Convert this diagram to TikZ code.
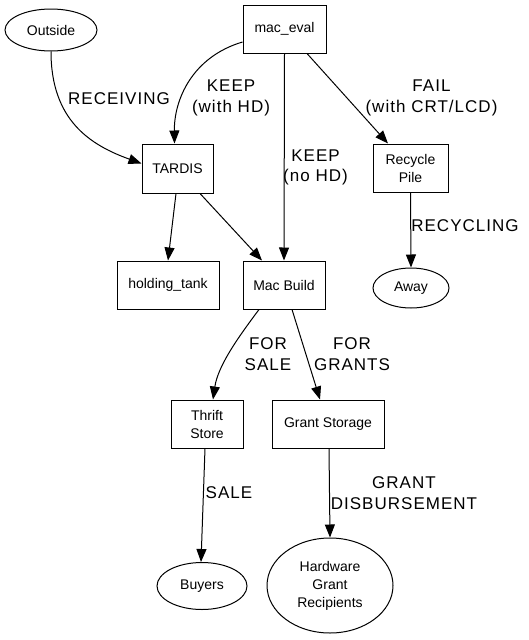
\documentclass[tikz,border=0pt]{standalone}
\usepackage{fontspec}
\setmainfont{Liberation Sans}
\newfontfamily\lblfont[LetterSpace=6]{Liberation Sans}
\usetikzlibrary{arrows.meta,shapes.geometric,calc}
\begin{document}
\begin{tikzpicture}[x=1pt,y=-1pt,
  box/.style={draw,line width=1pt,rectangle,inner sep=0pt,font=\fontsize{14}{18}\selectfont,align=center},
  oval/.style={draw,line width=1pt,ellipse,inner sep=0pt,font=\fontsize{14}{18}\selectfont,align=center},
  lbl/.style={inner sep=0pt,font=\lblfont\fontsize{17}{20.5}\selectfont,align=center},
  edge/.style={line width=1pt,-{Triangle[length=13pt,width=10pt]}}]
\useasboundingbox (0,0) rectangle (528,640);
\fill[white] (0,0) rectangle (528,640);

\node[oval,minimum width=92pt,minimum height=42pt] (outside) at (51,30) {Outside};
\node[box,minimum width=83pt,minimum height=48pt] (maceval) at (284.5,29) {mac\_eval};
\node[box,minimum width=71pt,minimum height=49pt] (tardis) at (177.5,168.5) {TARDIS};
\node[box,minimum width=75pt,minimum height=48pt] (recycle) at (410.5,168) {Recycle\\Pile};
\node[box,minimum width=102pt,minimum height=48pt] (holding) at (168,285) {holding\_tank};
\node[box,minimum width=82pt,minimum height=48pt] (macbuild) at (284,285) {Mac Build};
\node[oval,minimum width=76pt,minimum height=40pt] (away) at (411,288) {Away};
\node[box,minimum width=72pt,minimum height=48pt] (thrift) at (207,424) {Thrift\\Store};
\node[box,minimum width=112pt,minimum height=48pt] (grant) at (328,424) {Grant Storage};
\node[oval,minimum width=90pt,minimum height=47pt] (buyers) at (202,586) {Buyers};
\node[oval,minimum width=126pt,minimum height=95pt] (hgr) at (330,585.5) {Hardware\\Grant\\Recipients};

\draw[edge] (outside.south) .. controls (51,120) and (90,145) .. ($(tardis.west)+(0,-5)$);
\draw[edge] ($(maceval.west)+(0,13)$) .. controls (192,57) and (174,100) .. ($(tardis.north)+(-3,0)$);
\draw[edge] (maceval.south) -- (macbuild.north);
\draw[edge] ($(maceval.south)+(22.5,0)$) -- ($(recycle.north)+(-22.5,0)$);
\draw[edge] (recycle.south) -- (away.north);
\draw[edge] ($(tardis.south)+(-1.5,0)$) -- (holding.north);
\draw[edge] ($(tardis.south)+(22.5,0)$) -- ($(macbuild.north)+(-22,0)$);
\draw[edge] ($(macbuild.south)+(-25,0)$) .. controls (240,335) and (218,365) .. ($(thrift.north)+(6,0)$);
\draw[edge] ($(macbuild.south)+(8,0)$) -- ($(grant.north)+(-8,0)$);
\draw[edge] ($(thrift.south)+(-2,0)$) -- ($(buyers.north)+(-1,0)$);
\draw[edge] ($(grant.south)+(1,0)$) -- (hgr.north);

\node[lbl] (lrec) at (119,99) {RECEIVING};
\node[lbl] (lkeep1) at (231,98) {KEEP\\(with HD)};
\node[lbl] (lfail) at (431.5,98) {FAIL\\(with CRT/LCD)};
\node[lbl] (lkeep2) at (315.5,167.5) {KEEP\\(no HD)};
\node[lbl] (lrcy) at (465,226) {RECYCLING};
\node[lbl] (lsale1) at (268,354) {FOR\\SALE};
\node[lbl] (lgr) at (352,354) {FOR\\GRANTS};
\node[lbl] (lsale2) at (229,492.5) {SALE};
\node[lbl] (ldisb) at (404,493) {GRANT\\DISBURSEMENT};
\end{tikzpicture}
\end{document}
